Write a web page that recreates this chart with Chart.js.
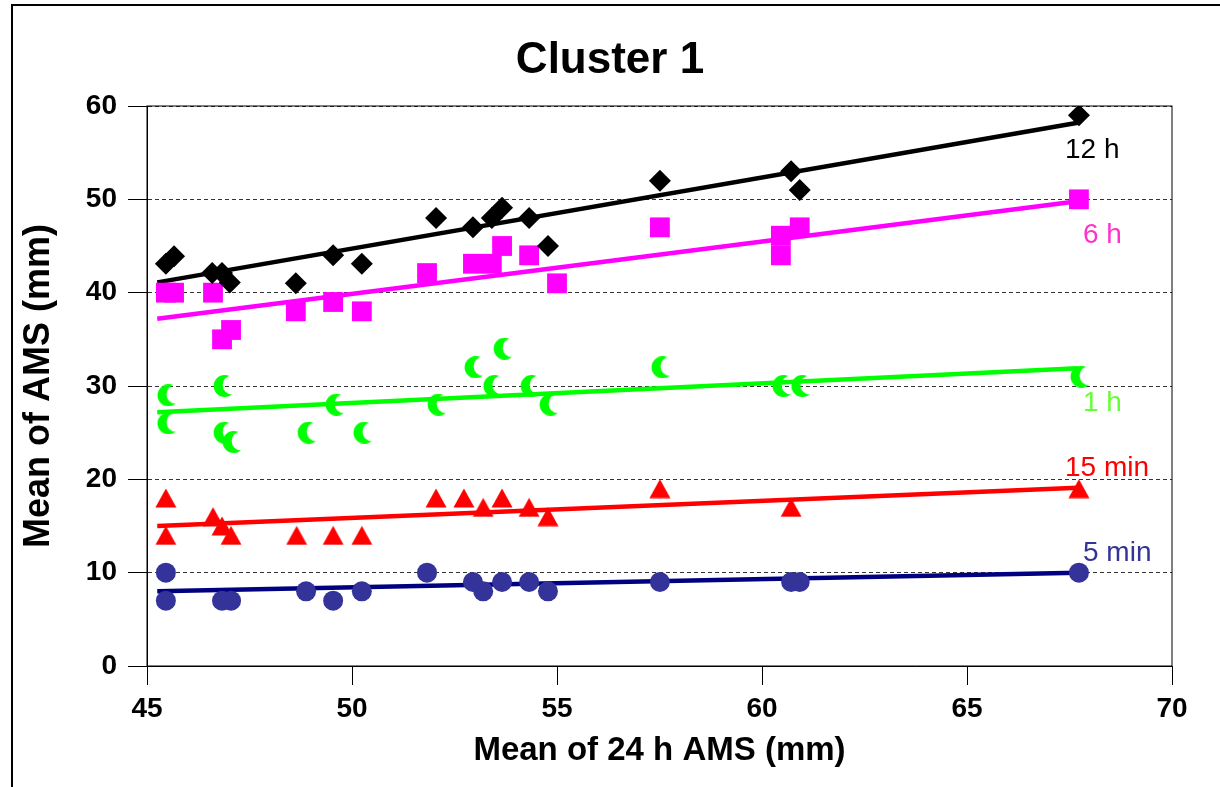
<!DOCTYPE html>
<html>
<head>
<meta charset="utf-8">
<script src="https://cdn.jsdelivr.net/npm/chart.js@4.4.1/dist/chart.umd.min.js"></script>
<style>
  html, body { margin: 0; padding: 0; background: #fff; }
  #wrap { position: relative; width: 1220px; height: 787px; overflow: hidden; }
  #frame { position: absolute; left: 11px; top: 4px; width: 1300px; height: 900px;
           border-top: 2px solid #000; border-left: 2px solid #000; }
  #chart { position: absolute; left: 0; top: 0; }
</style>
</head>
<body>
<div id="wrap">
  <div id="frame"></div>
  <canvas id="chart" width="1220" height="787"></canvas>
</div>
<script>
// values (x = mean of 24 h AMS, y = mean AMS for each duration)
const h12X = [45.46, 45.66, 46.59, 46.83, 47.02, 48.63, 49.54, 50.24, 52.05, 52.95, 53.41, 53.66, 54.32, 54.78, 57.51, 60.71, 60.92, 67.73];
const h12Y = [43.1, 43.9, 42.1, 42.1, 41.1, 41.0, 44.0, 43.1, 48.0, 47.0, 48.0, 49.1, 48.0, 45.0, 52.0, 53.0, 51.0, 59.0];

const h6X = [45.46, 45.66, 46.61, 46.83, 47.05, 48.63, 49.54, 50.24, 51.83, 52.95, 53.41, 53.66, 54.32, 55.0, 57.51, 60.46, 60.46, 60.92, 67.73];
const h6Y = [40, 40, 40, 35, 36, 38, 39, 38, 42.1, 43.1, 43.1, 45, 44, 41, 47, 46.1, 44, 47, 50];

const h1X = [45.46, 45.46, 46.83, 46.83, 47.05, 48.88, 49.56, 50.24, 52.05, 52.95, 53.41, 53.66, 54.32, 54.78, 57.51, 60.46, 60.92, 67.73];
const h1Y = [29, 26, 30, 25, 24, 25, 28, 25, 28, 32, 30, 34, 30, 28, 32, 30, 30, 31];

const min15X = [45.46, 45.46, 46.61, 46.83, 47.05, 48.65, 49.54, 50.24, 52.05, 52.73, 53.2, 53.66, 54.32, 54.78, 57.51, 60.71, 67.73];
const min15Y = [18, 14, 16, 15, 14, 14, 14, 14, 18, 18, 17, 18, 17, 16, 19, 17, 19];

const min5X = [45.46, 45.46, 46.83, 47.05, 48.88, 49.54, 50.24, 51.83, 52.95, 53.2, 53.66, 54.32, 54.78, 57.51, 60.71, 60.92, 67.73];
const min5Y = [10, 7, 7, 7, 8, 7, 8, 10, 9, 8, 9, 9, 8, 9, 9, 9, 10];

// trend lines, start and end
const trendX = [45.25, 67.7];
const trend12 = [41.1, 58.2];
const trend6 = [37.2, 49.8];
const trend1 = [27.2, 31.9];
const trend15 = [15.0, 19.1];
const trend5 = [8.0, 10.0];

const xTicks = [45, 50, 55, 60, 65, 70];
const yTicks = [0, 10, 20, 30, 40, 50, 60];
const seriesNames = ['12 h', '6 h', '1 h', '15 min', '5 min'];

const toPoints = (xs, ys) => xs.map((x, i) => ({ x: x, y: ys[i] }));

function crescentMarker(color) {
    const c = document.createElement('canvas');
    c.width = 24; c.height = 22;
    const g = c.getContext('2d');
    g.fillStyle = color;
    g.beginPath();
    g.arc(14.6, 11, 11, 0, Math.PI * 2);
    g.fill();
    g.globalCompositeOperation = 'destination-out';
    g.beginPath();
    g.arc(22.1, 10, 9.5, 0, Math.PI * 2);
    g.fill();
    return c;
}

function triangleMarker(color) {
    const c = document.createElement('canvas');
    c.width = 22; c.height = 20;
    const g = c.getContext('2d');
    g.fillStyle = color;
    g.beginPath();
    g.moveTo(11, 0.5);
    g.lineTo(21.5, 19.5);
    g.lineTo(0.5, 19.5);
    g.closePath();
    g.fill();
    return c;
}

const labelSpots = [
    { text: seriesNames[0], color: '#000000', x: 1065, y: 158 },
    { text: seriesNames[1], color: '#ff33cc', x: 1083, y: 243 },
    { text: seriesNames[2], color: '#66ff33', x: 1083, y: 411 },
    { text: seriesNames[3], color: '#ff0000', x: 1065, y: 476 },
    { text: seriesNames[4], color: '#333399', x: 1083, y: 561 }
];

const decor = {
    id: 'decor',
    beforeDatasetsDraw(chart) {
        const a = chart.chartArea;
        const ctx = chart.ctx;
        ctx.save();
        ctx.strokeStyle = '#000';
        ctx.lineWidth = 1;
        ctx.strokeRect(a.left, a.top, a.right - a.left, a.bottom - a.top);
        ctx.restore();
    },
    afterDraw(chart) {
        const ctx = chart.ctx;
        ctx.save();
        ctx.textBaseline = 'alphabetic';
        ctx.textAlign = 'center';
        ctx.fillStyle = '#000';
        ctx.font = 'bold 44px "Liberation Sans", Arial, sans-serif';
        ctx.fillText('Cluster 1', 610, 73);
        ctx.textAlign = 'left';
        ctx.font = '28px "Liberation Sans", Arial, sans-serif';
        labelSpots.forEach(l => {
            ctx.fillStyle = l.color;
            ctx.fillText(l.text, l.x, l.y);
        });
        ctx.restore();
    }
};

const scatterSet = (label, data, color, style, radius) => ({
    label: label,
    data: data,
    pointStyle: style,
    pointRadius: radius,
    pointBackgroundColor: color,
    pointBorderColor: color,
    pointBorderWidth: 0,
    showLine: false,
    order: 0
});

const trendSet = (label, ys, color) => ({
    label: label + ' trend',
    data: toPoints(trendX, ys),
    borderColor: color,
    borderWidth: 4.5,
    pointRadius: 0,
    showLine: true,
    fill: false,
    order: 1
});

const axisFont = { family: '"Liberation Sans", Arial, sans-serif', size: 28, weight: 'bold' };

new Chart(document.getElementById('chart'), {
    type: 'scatter',
    data: {
        datasets: [
            scatterSet(seriesNames[0], toPoints(h12X, h12Y), '#000000', 'rectRot', 11),
            scatterSet(seriesNames[1], toPoints(h6X, h6Y), '#ff00ff', 'rect', 14),
            scatterSet(seriesNames[2], toPoints(h1X, h1Y), '#00ff00', crescentMarker('#00ff00'), 10),
            scatterSet(seriesNames[3], toPoints(min15X, min15Y), '#ff0000', triangleMarker('#ff0000'), 10),
            scatterSet(seriesNames[4], toPoints(min5X, min5Y), '#333399', 'circle', 10),
            trendSet(seriesNames[0], trend12, '#000000'),
            trendSet(seriesNames[1], trend6, '#ff00ff'),
            trendSet(seriesNames[2], trend1, '#00ff00'),
            trendSet(seriesNames[3], trend15, '#ff0000'),
            trendSet(seriesNames[4], trend5, '#000080')
        ]
    },
    options: {
        responsive: false,
        animation: false,
        devicePixelRatio: 1,
        layout: { padding: { top: 106, right: 48, bottom: 0, left: 0 } },
        plugins: {
            legend: { display: false },
            tooltip: { enabled: false },
            title: { display: false }
        },
        scales: {
            x: {
                type: 'linear',
                min: xTicks[0],
                max: xTicks[xTicks.length - 1],
                afterBuildTicks: s => { s.ticks = xTicks.map(v => ({ value: v })); },
                afterFit: s => { s.height = 121; },
                grid: { drawOnChartArea: false, drawTicks: true, tickLength: 19, tickColor: '#000', color: '#000' },
                border: { display: true, color: '#000', width: 1 },
                ticks: { color: '#000', font: axisFont, padding: 7, maxRotation: 0 },
                title: { display: true, text: 'Mean of 24 h AMS (mm)', color: '#000',
                         font: { family: '"Liberation Sans", Arial, sans-serif', size: 33, weight: 'bold' },
                         padding: { top: 0, bottom: 16 } }
            },
            y: {
                type: 'linear',
                min: yTicks[0],
                max: yTicks[yTicks.length - 1],
                afterBuildTicks: s => { s.ticks = yTicks.map(v => ({ value: v })); },
                afterFit: s => { s.width = 147; },
                grid: { drawOnChartArea: true, drawTicks: true, tickLength: 19, tickColor: '#000', color: '#333', lineWidth: 1 },
                border: { display: true, color: '#000', width: 1, dash: [4, 3] },
                ticks: { color: '#000', font: axisFont, padding: 11 },
                title: { display: true, text: 'Mean of AMS (mm)', color: '#000',
                         font: { family: '"Liberation Sans", Arial, sans-serif', size: 36, weight: 'bold' },
                         padding: { top: 17, bottom: 0 } }
            }
        }
    },
    plugins: [decor]
});
</script>
</body>
</html>
